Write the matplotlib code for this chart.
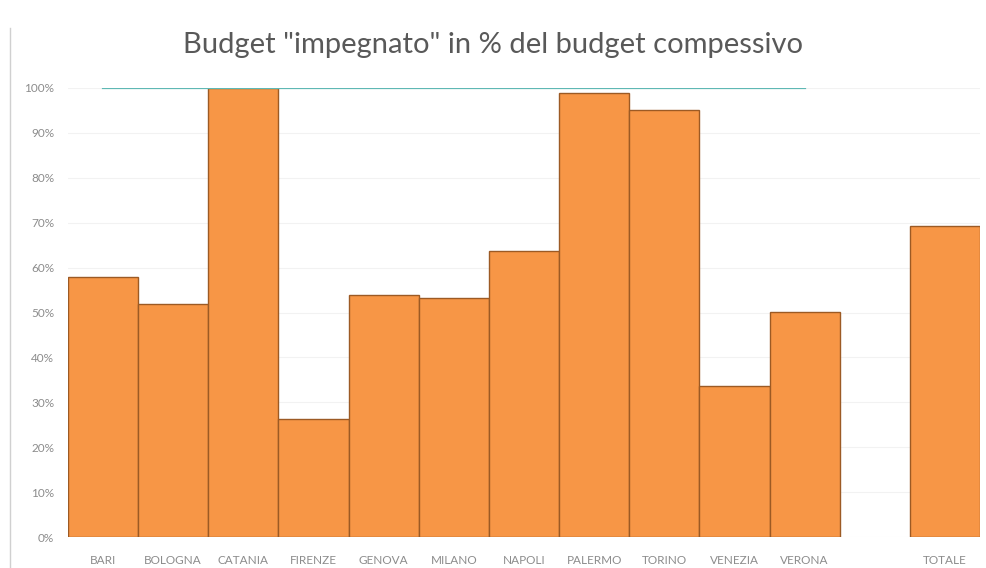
import matplotlib
matplotlib.use("Agg")
import matplotlib.pyplot as plt
from matplotlib.lines import Line2D
import numpy as np

cities = ["BARI", "BOLOGNA", "CATANIA", "FIRENZE", "GENOVA", "MILANO", "NAPOLI",
          "PALERMO", "TORINO", "VENEZIA", "VERONA", "", "TOTALE"]
impegnato = [0.58, 0.52, 1.00, 0.263, 0.539, 0.532, 0.637,
             0.989, 0.951, 0.336, 0.501, np.nan, 0.693]
target = [1.0, 1.0]
target_x = [0, 10]
y_ticks = [0, 0.1, 0.2, 0.3, 0.4, 0.5, 0.6, 0.7, 0.8, 0.9, 1.0]

plt.rcParams['font.family'] = ['Lato', 'DejaVu Sans']

fig = plt.figure(figsize=(9.87, 5.68), dpi=100)
ax = fig.add_axes([68 / 987, 31 / 568, 912 / 987, 449 / 568])

x = np.arange(len(cities))
ax.bar(x, impegnato, width=1.0, color="#f79646", edgecolor="#9c5a24", linewidth=1.0, zorder=2)
ax.plot(target_x, target, color="#5fb8b4", linewidth=1.6, zorder=3)

ax.set_xlim(-0.5, len(cities) - 0.5)
ax.set_ylim(0, 1.0)
ax.set_yticks(y_ticks)
ax.set_yticklabels([f"{int(round(t * 100))}%" for t in y_ticks], fontsize=8.5, color="#8c8c8c")
ax.set_xticks(x)
ax.set_xticklabels(cities, fontsize=8.5, color="#8c8c8c")
ax.tick_params(axis="both", length=0)
ax.tick_params(axis="y", pad=10)
ax.tick_params(axis="x", pad=13)
ax.grid(axis="y", color="#f2f2f2", linewidth=0.8, zorder=0)
for s in ax.spines.values():
    s.set_visible(False)

fig.text(493 / 987, 1 - 45 / 568, 'Budget "impegnato" in % del budget compessivo',
         ha="center", va="center", fontsize=21, color="#595959")

# left border of the chart box
fig.add_artist(Line2D([10 / 987, 10 / 987], [0, 1 - 28 / 568], color="#d0d0d0", linewidth=1))

fig.savefig("out.png", dpi=100, facecolor="white")
